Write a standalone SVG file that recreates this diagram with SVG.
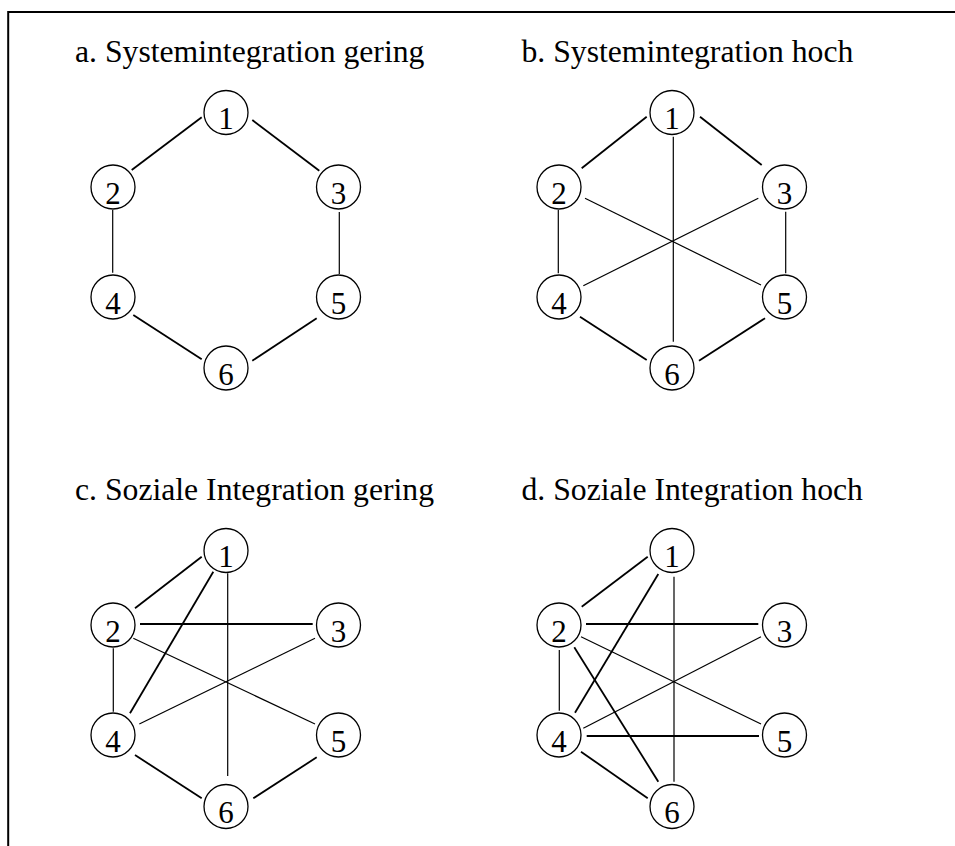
<svg xmlns="http://www.w3.org/2000/svg" width="955" height="846" viewBox="0 0 955 846">
  <style>
    .frame { fill: none; stroke: #000; stroke-width: 2; }
    .title { font-family: "Liberation Serif", "Times New Roman", serif; font-size: 31.7px; fill: #000; }
    .node circle { fill: #fff; stroke: #000; stroke-width: 1.3; }
    .node text { font-family: "Liberation Serif", "Times New Roman", serif; font-size: 31px; fill: #000; text-anchor: middle; }
    .edges line { stroke: #000; stroke-linecap: butt; }
    .thick { stroke-width: 1.8; }
    .thin { stroke-width: 1.2; }
  </style>

  <rect width="955" height="846" fill="#fff"/>
  <!-- open frame: left and top sides -->
  <path class="frame" d="M8.2,846 V12 H955"/>

  <!-- titles -->
  <text class="title" x="75" y="61.7">a. Systemintegration gering</text>
  <text class="title" x="521.5" y="61.7">b. Systemintegration hoch</text>
  <text class="title" x="75" y="500">c. Soziale Integration gering</text>
  <text class="title" x="521.5" y="500">d. Soziale Integration hoch</text>

  <!-- connectors -->
  <g id="connectors" class="edges">
    <!-- a -->
    <line class="thick" x1="131.7" y1="170" x2="201.7" y2="117.3"/>
    <line class="thick" x1="252.3" y1="120" x2="319.3" y2="170.7"/>
    <line class="thin" x1="112.7" y1="210" x2="112.7" y2="272.7"/>
    <line class="thin" x1="339.3" y1="212" x2="339.3" y2="274"/>
    <line class="thick" x1="133.3" y1="315" x2="201.7" y2="359.3"/>
    <line class="thick" x1="316.7" y1="318.3" x2="252.3" y2="360.7"/>
    <!-- b -->
    <line class="thick" x1="581.7" y1="168.3" x2="646.7" y2="116.7"/>
    <line class="thick" x1="700" y1="116.7" x2="761.7" y2="165"/>
    <line class="thin" x1="673.3" y1="136.7" x2="673.3" y2="341.7"/>
    <line class="thin" x1="558.3" y1="210" x2="558.3" y2="273.3"/>
    <line class="thin" x1="785.7" y1="211.7" x2="785.7" y2="273.3"/>
    <line class="thin" x1="585" y1="198.3" x2="761" y2="285"/>
    <line class="thin" x1="758.3" y1="198.3" x2="583.3" y2="285.7"/>
    <line class="thick" x1="580" y1="316.7" x2="646.7" y2="360"/>
    <line class="thick" x1="765" y1="318.3" x2="699" y2="360.7"/>
    <!-- c -->
    <line class="thick" x1="135" y1="608.3" x2="201.7" y2="556.7"/>
    <line class="thick" x1="213.3" y1="571.7" x2="130" y2="713.3"/>
    <line class="thin" x1="227.7" y1="573.3" x2="227.7" y2="776"/>
    <line class="thick" x1="140" y1="624" x2="312.7" y2="624"/>
    <line class="thin" x1="133.3" y1="638.3" x2="315" y2="724"/>
    <line class="thin" x1="315" y1="638.3" x2="139.3" y2="724"/>
    <line class="thin" x1="113.3" y1="648.3" x2="113.3" y2="711.7"/>
    <line class="thick" x1="135" y1="755" x2="201.7" y2="798.3"/>
    <line class="thick" x1="316.7" y1="757.3" x2="253.3" y2="798.3"/>
    <!-- d -->
    <line class="thick" x1="581.7" y1="606.7" x2="647.7" y2="556.7"/>
    <line class="thick" x1="658.3" y1="574" x2="575" y2="712.7"/>
    <line class="thin" x1="674" y1="576.7" x2="674" y2="781.7"/>
    <line class="thick" x1="586" y1="624" x2="758.3" y2="624"/>
    <line class="thin" x1="581" y1="636.7" x2="761" y2="724"/>
    <line class="thick" x1="574.3" y1="647.3" x2="658.3" y2="781.7"/>
    <line class="thin" x1="559.3" y1="650" x2="559.3" y2="710.7"/>
    <line class="thin" x1="761" y1="636.7" x2="583.3" y2="728.3"/>
    <line class="thick" x1="586.7" y1="736" x2="759" y2="736"/>
    <line class="thick" x1="581" y1="751.7" x2="647.7" y2="798.3"/>
  </g>

  <!-- panel a nodes -->
  <g id="a1" class="node"><circle cx="226" cy="112.5" r="22"/><text x="226" y="128.5">1</text></g>
  <g id="a2" class="node"><circle cx="113" cy="187" r="22"/><text x="113" y="203.5">2</text></g>
  <g id="a3" class="node"><circle cx="338.5" cy="187" r="22"/><text x="338.5" y="203.5">3</text></g>
  <g id="a4" class="node"><circle cx="113" cy="297" r="22"/><text x="113" y="313.5">4</text></g>
  <g id="a5" class="node"><circle cx="338.5" cy="297" r="22"/><text x="338.5" y="313.5">5</text></g>
  <g id="a6" class="node"><circle cx="226" cy="368" r="22"/><text x="226" y="384.5">6</text></g>

  <!-- panel b nodes -->
  <g id="b1" class="node"><circle cx="672" cy="112.5" r="22"/><text x="672" y="128.5">1</text></g>
  <g id="b2" class="node"><circle cx="559" cy="187" r="22"/><text x="559" y="203.5">2</text></g>
  <g id="b3" class="node"><circle cx="784.5" cy="187" r="22"/><text x="784.5" y="203.5">3</text></g>
  <g id="b4" class="node"><circle cx="559" cy="297" r="22"/><text x="559" y="313.5">4</text></g>
  <g id="b5" class="node"><circle cx="784.5" cy="297" r="22"/><text x="784.5" y="313.5">5</text></g>
  <g id="b6" class="node"><circle cx="672" cy="368" r="22"/><text x="672" y="384.5">6</text></g>

  <!-- panel c nodes -->
  <g id="c1" class="node"><circle cx="226" cy="550.5" r="22"/><text x="226" y="566.5">1</text></g>
  <g id="c2" class="node"><circle cx="113" cy="625" r="22"/><text x="113" y="641.5">2</text></g>
  <g id="c3" class="node"><circle cx="338.5" cy="625" r="22"/><text x="338.5" y="641.5">3</text></g>
  <g id="c4" class="node"><circle cx="113" cy="735" r="22"/><text x="113" y="751.5">4</text></g>
  <g id="c5" class="node"><circle cx="338.5" cy="735" r="22"/><text x="338.5" y="751.5">5</text></g>
  <g id="c6" class="node"><circle cx="226" cy="806.5" r="22"/><text x="226" y="823">6</text></g>

  <!-- panel d nodes -->
  <g id="d1" class="node"><circle cx="672" cy="550.5" r="22"/><text x="672" y="566.5">1</text></g>
  <g id="d2" class="node"><circle cx="559" cy="625" r="22"/><text x="559" y="641.5">2</text></g>
  <g id="d3" class="node"><circle cx="784.5" cy="625" r="22"/><text x="784.5" y="641.5">3</text></g>
  <g id="d4" class="node"><circle cx="559" cy="735" r="22"/><text x="559" y="751.5">4</text></g>
  <g id="d5" class="node"><circle cx="784.5" cy="735" r="22"/><text x="784.5" y="751.5">5</text></g>
  <g id="d6" class="node"><circle cx="672" cy="806.5" r="22"/><text x="672" y="823">6</text></g>
</svg>
